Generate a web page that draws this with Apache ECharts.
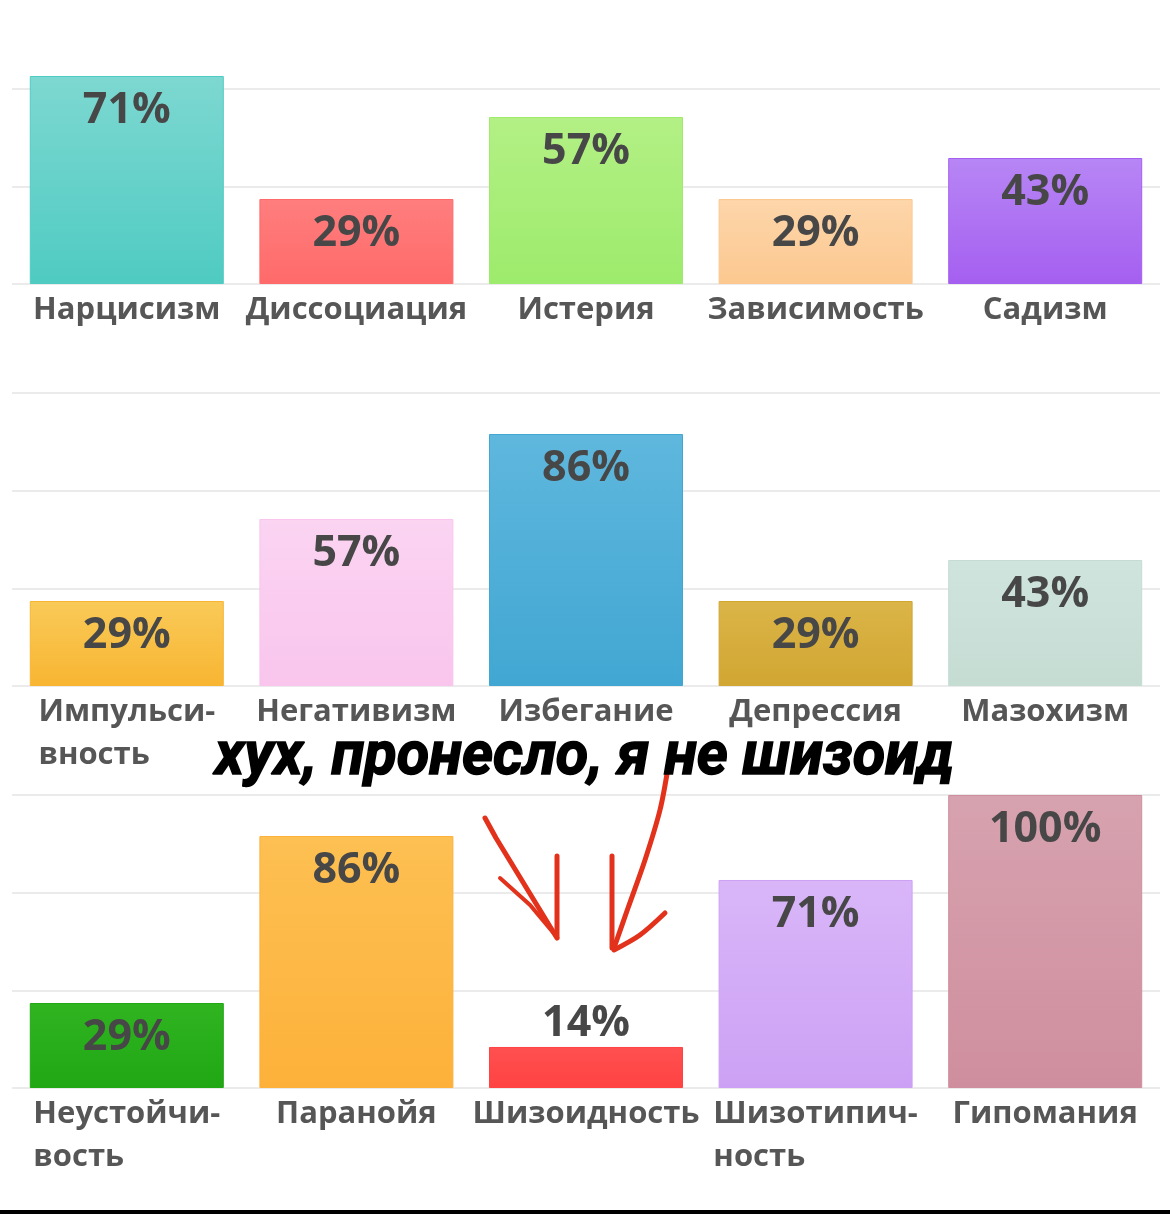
<!DOCTYPE html>
<html>
<head>
<meta charset="utf-8">
<title>Результаты теста</title>
<script src="https://cdn.jsdelivr.net/npm/echarts@6/dist/echarts.min.js"></script>
<style>
  html, body { margin: 0; padding: 0; background: #fff; }
  #main { width: 1170px; height: 1214px; }
</style>
</head>
<body>
<div id="main"></div>
<script>
// данные трёх графиков (проценты)
var cats1 = ['Нарцисизм', 'Диссоциация', 'Истерия', 'Зависимость', 'Садизм'];
var vals1 = [71, 29, 57, 29, 43];

var cats2 = ['Импульси-\nвность', 'Негативизм', 'Избегание', 'Депрессия', 'Мазохизм'];
var vals2 = [29, 57, 86, 29, 43];

var cats3 = ['Неустойчи-\nвость', 'Паранойя', 'Шизоидность', 'Шизотипич-\nность', 'Гипомания'];
var vals3 = [29, 86, 14, 71, 100];

// цвета столбиков: [верх, низ]
var colors1 = [['#7dd8d1', '#4fcbc2'], ['#ff7e7e', '#ff6a6a'], ['#b3f085', '#9deb6c'], ['#fdd6aa', '#fcc890'], ['#b786f5', '#a55ff0']];
var colors2 = [['#f9ca58', '#f8b532'], ['#fbd4f2', '#f9c5ed'], ['#5fb7dd', '#41a7d2'], ['#dbb548', '#d1a632'], ['#cfe4dd', '#c5dcd3']];
var colors3 = [['#30b521', '#21a714'], ['#fdc052', '#fdb13a'], ['#ff5050', '#ff4242'], ['#d9b6f8', '#cca1f5'], ['#d7a2af', '#cf8e9e']];

var myChart = echarts.init(document.getElementById('main'));

// нижняя граница (ось) каждого графика
var baselines = [284, 686, 1088];

function makeData(vals, colors) {
    return vals.map(function (v, i) {
        var item = {
            value: v,
            itemStyle: {
                color: new echarts.graphic.LinearGradient(0, 0, 0, 1, [
                    { offset: 0, color: colors[i][0] },
                    { offset: 1, color: colors[i][1] }
                ]),
                borderColor: colors[i][1],
                borderWidth: 1
            }
        };
        // низкий столбик — подпись над ним
        if (v < 20) {
            item.label = { position: 'top', distance: 2 };
        }
        return item;
    });
}

var labelFont = 'Open Sans';

var grids = [], xAxes = [], yAxes = [], series = [];
[[cats1, vals1, colors1], [cats2, vals2, colors2], [cats3, vals3, colors3]].forEach(function (set, k) {
    grids.push({
        left: 12,
        right: 10,
        bottom: 1214 - baselines[k],
        height: 293,
        outerBoundsMode: 'none',
        containLabel: false
    });
    xAxes.push({
        type: 'category',
        gridIndex: k,
        data: set[0],
        axisLine: { show: false },
        axisTick: { show: false },
        axisLabel: {
            interval: 0,
            margin: 5,
            hideOverlap: false,
            formatter: function (value) {
                return value.split('\n').map(function (s) { return '{a|' + s + '}'; }).join('\n');
            },
            rich: {
                a: {
                    align: 'left',
                    fontFamily: labelFont,
                    fontWeight: 'bold',
                    fontSize: 31,
                    lineHeight: 43,
                    color: '#565656'
                }
            }
        }
    });
    yAxes.push({
        type: 'value',
        gridIndex: k,
        min: 0,
        max: 100,
        interval: 100 / 3,
        axisLabel: { show: false },
        axisLine: { show: false },
        axisTick: { show: false },
        splitLine: { lineStyle: { color: '#ebebeb', width: 2 } }
    });
    series.push({
        type: 'bar',
        xAxisIndex: k,
        yAxisIndex: k,
        barCategoryGap: '15.5%',
        data: makeData(set[1], set[2]),
        label: {
            show: true,
            position: 'insideTop',
            distance: 13,
            formatter: '{c}%',
            fontFamily: labelFont,
            fontWeight: 'bold',
            fontSize: 43,
            color: '#474747'
        }
    });
});

var red = '#e2321c';
var option = {
    backgroundColor: '#ffffff',
    animation: false,
    grid: grids,
    xAxis: xAxes,
    yAxis: yAxes,
    series: series,
    graphic: [
        // стрелки
        { type: 'polyline', z: 10, shape: { points: [[485, 818], [496, 838], [557, 938]] }, style: { stroke: red, lineWidth: 5, lineCap: 'round', lineJoin: 'round', fill: null } },
        { type: 'polyline', z: 10, shape: { points: [[500, 878], [530, 905], [556, 936]] }, style: { stroke: red, lineWidth: 4, lineCap: 'round', fill: null } },
        { type: 'polyline', z: 10, shape: { points: [[557, 856], [557, 937]] }, style: { stroke: red, lineWidth: 5, lineCap: 'round', fill: null } },
        { type: 'polyline', z: 10, shape: { points: [[668, 768], [660, 810], [645, 860], [628, 908], [614, 948]], smooth: 0.3 }, style: { stroke: red, lineWidth: 5, lineCap: 'round', lineJoin: 'round', fill: null } },
        { type: 'polyline', z: 10, shape: { points: [[612, 856], [612, 948]] }, style: { stroke: red, lineWidth: 5, lineCap: 'round', fill: null } },
        { type: 'polyline', z: 10, shape: { points: [[665, 913], [640, 935], [614, 950]], smooth: 0.3 }, style: { stroke: red, lineWidth: 5, lineCap: 'round', fill: null } },
        // подпись поверх графика
        {
            type: 'text',
            x: 215,
            y: 759,
            scaleX: 0.975,
            style: {
                text: 'хух, пронесло, я не шизоид',
                font: 'italic bold 61px Roboto',
                fill: '#000',
                stroke: '#000',
                lineWidth: 1.5,
                verticalAlign: 'middle'
            },
            z: 11
        },
        // чёрная полоса снизу
        { type: 'rect', shape: { x: 0, y: 1210, width: 1170, height: 4 }, style: { fill: '#000' } }
    ]
};

myChart.setOption(option);
</script>
</body>
</html>
